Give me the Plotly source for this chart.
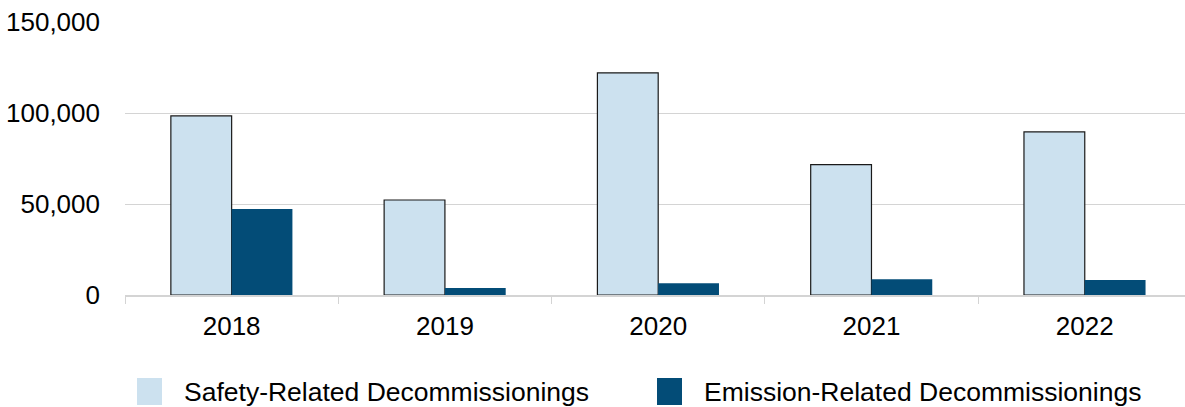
import plotly.graph_objects as go

years = ["2018", "2019", "2020", "2021", "2022"]
safety = [98400, 52200, 122100, 71600, 89600]
emission = [47300, 3900, 6400, 8600, 8300]
y_ticks = [0, 50000, 100000, 150000]
y_tick_labels = ["0", "50,000", "100,000", "150,000"]
series_names = ["Safety-Related Decommissionings", "Emission-Related Decommissionings"]

LIGHT = "#CCE1EF"
DARK = "#034C77"
FONT = "Liberation Sans, Arial, sans-serif"

fig = go.Figure()
fig.add_trace(go.Bar(x=years, y=safety, name=series_names[0],
                     marker=dict(color=LIGHT, line=dict(color="#1a1a1a", width=1.2)),
                     showlegend=False))
fig.add_trace(go.Bar(x=years, y=emission, name=series_names[1],
                     marker=dict(color=DARK, line=dict(color=DARK, width=0)),
                     showlegend=False))

W, H = 1185, 407
ml, mr, mt, mb = 125, 0, 22, 112
pw, ph = W - ml - mr, H - mt - mb

def px_x(px):
    return (px - ml) / pw

def px_y(py):
    return (H - mb - py) / ph

# manual legend (large square swatches)
legend_items = [(137, LIGHT, series_names[0]), (657, DARK, series_names[1])]
shapes = []
annotations = []
for x0, col, name in legend_items:
    shapes.append(dict(type="rect", xref="paper", yref="paper",
                       x0=px_x(x0), x1=px_x(x0 + 25), y0=px_y(405), y1=px_y(378),
                       fillcolor=col, line=dict(width=0)))
    annotations.append(dict(xref="paper", yref="paper", x=px_x(x0 + 45), y=px_y(392),
                            text=name, showarrow=False, xanchor="left", yanchor="middle",
                            font=dict(family=FONT, size=26.5, color="#000")))

fig.update_layout(
    width=W, height=H,
    margin=dict(l=ml, r=mr, t=mt, b=mb),
    paper_bgcolor="white", plot_bgcolor="white",
    barmode="group", bargap=0.43, bargroupgap=0,
    font=dict(family=FONT, size=26, color="#000"),
    shapes=shapes, annotations=annotations,
    xaxis=dict(type="category", range=[-0.5, 4.47], showgrid=False,
               showline=True, linecolor="#d4d4d4", linewidth=1.5,
               ticks="outside", tickson="boundaries", ticklen=7, tickcolor="#d4d4d4",
               tickfont=dict(family=FONT, size=26, color="#000"),
               ticklabelstandoff=7),
    yaxis=dict(range=[0, 150000], tickvals=y_ticks, ticktext=y_tick_labels,
               showgrid=True, gridcolor="#d4d4d4", gridwidth=1,
               zeroline=False, showline=False, ticks="",
               tickfont=dict(family=FONT, size=26, color="#000"),
               ticklabelstandoff=24),
)

fig.write_html("out.html")
